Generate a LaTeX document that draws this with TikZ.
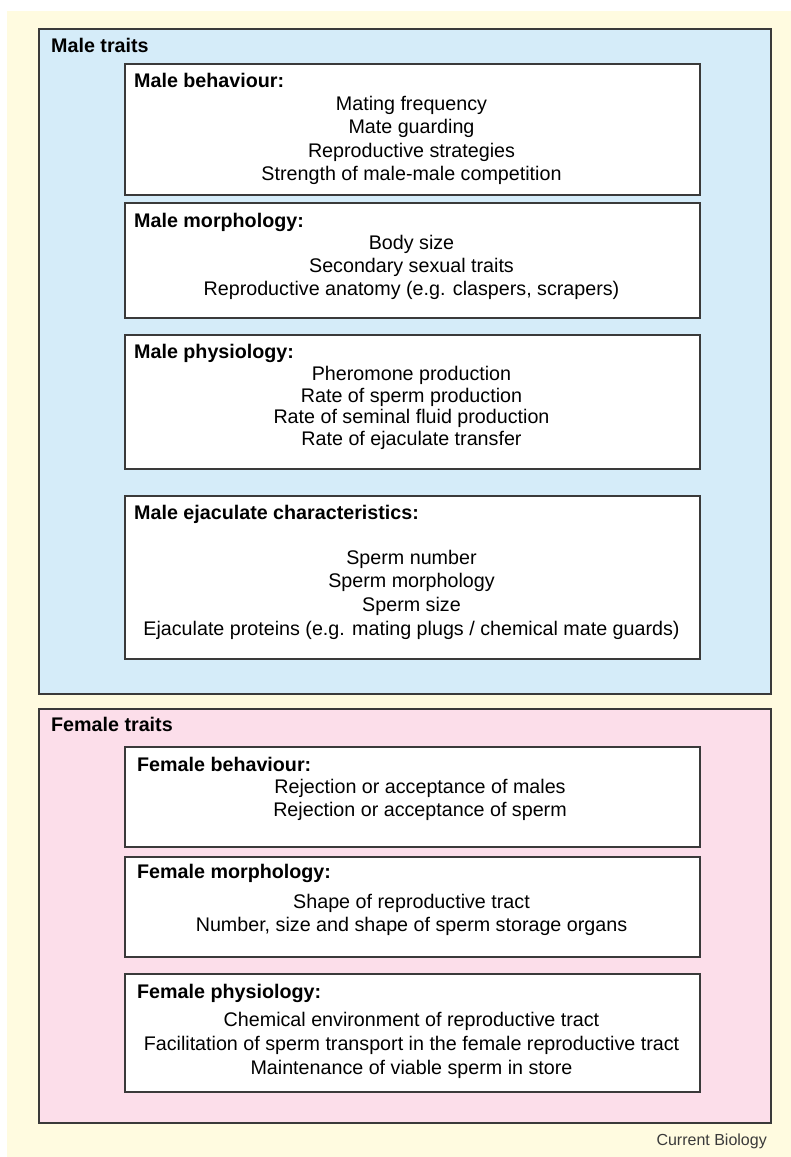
\documentclass[tikz,border=0pt]{standalone}
\usepackage{fontspec}
\setmainfont{Liberation Sans}
\definecolor{bgcream}{HTML}{FFFBE0}
\definecolor{maleblue}{HTML}{D5ECF9}
\definecolor{femalepink}{HTML}{FCDEEA}
\definecolor{edge}{HTML}{3A3A3A}
\begin{document}
\begin{tikzpicture}[x=1pt,y=-1pt]
\tikzset{ every node/.style={inner sep=0pt, font=\fontsize{19.7}{23.5}\selectfont}}
\tikzstyle{group}=[draw=edge,line width=1.5pt,anchor=north west,minimum width=732pt]
\tikzstyle{traitbox}=[draw=edge,line width=1.5pt,fill=white,anchor=north west,minimum width=575pt]
\tikzstyle{head}=[anchor=base west,font=\fontsize{19.7}{23.5}\selectfont\bfseries]
\tikzstyle{item}=[anchor=base]
\tikzstyle{credit}=[anchor=base east,text=edge,font=\fontsize{16}{19}\selectfont]
\useasboundingbox (0,0) rectangle (791,1157);
\fill[bgcream] (7,11) rectangle (791,1157);
% groups
\node[group,fill=maleblue,minimum height=665pt] (male) at (38,28) {};
\node[group,fill=femalepink,minimum height=414pt] (female) at (38,708) {};
\node[head] (maletitle) at (51,52) {Male traits};
\node[head] (femaletitle) at (51,731) {Female traits};
% male boxes
\node[traitbox,minimum height=131pt] (mbeh) at (124,63) {};
\node[traitbox,minimum height=115pt] (mmor) at (124,202) {};
\node[traitbox,minimum height=134pt] (mphy) at (124,334) {};
\node[traitbox,minimum height=163pt] (mejc) at (124,495) {};
\node[head] (mbehhead) at (134,87) {Male behaviour:};
\node[item] (mbeh1) at (411.5,110) {Mating frequency};
\node[item] (mbeh2) at (411.5,133.5) {Mate guarding};
\node[item] (mbeh3) at (411.5,157) {Reproductive strategies};
\node[item] (mbeh4) at (411.5,180.5) {Strength of male-male competition};
\node[head] (mmorhead) at (134,227) {Male morphology:};
\node[item] (mmor1) at (411.5,249) {Body size};
\node[item] (mmor2) at (411.5,272) {Secondary sexual traits};
\node[item] (mmor3) at (411.5,295) {Reproductive anatomy (e.g. claspers, scrapers)};
\node[head] (mphyhead) at (134,358) {Male physiology:};
\node[item] (mphy1) at (411.5,380) {Pheromone production};
\node[item] (mphy2) at (411.5,402) {Rate of sperm production};
\node[item] (mphy3) at (411.5,423.5) {Rate of seminal fluid production};
\node[item] (mphy4) at (411.5,445) {Rate of ejaculate transfer};
\node[head] (mejchead) at (134,519.5) {Male ejaculate characteristics:};
\node[item] (mejc1) at (411.5,564) {Sperm number};
\node[item] (mejc2) at (411.5,587.5) {Sperm morphology};
\node[item] (mejc3) at (411.5,611.5) {Sperm size};
\node[item] (mejc4) at (411.5,635) {Ejaculate proteins (e.g. mating plugs / chemical mate guards)};
% female boxes
\node[traitbox,minimum height=100pt] (fbeh) at (124,746) {};
\node[traitbox,minimum height=100pt] (fmor) at (124,856) {};
\node[traitbox,minimum height=118pt] (fphy) at (124,973) {};
\node[head] (fbehhead) at (137,771) {Female behaviour:};
\node[item] (fbeh1) at (420,793) {Rejection or acceptance of males};
\node[item] (fbeh2) at (420,816) {Rejection or acceptance of sperm};
\node[head] (fmorhead) at (137,878) {Female morphology:};
\node[item] (fmor1) at (411.5,908) {Shape of reproductive tract};
\node[item] (fmor2) at (411.5,931) {Number, size and shape of sperm storage organs};
\node[head] (fphyhead) at (137,998) {Female physiology:};
\node[item] (fphy1) at (411.5,1026) {Chemical environment of reproductive tract};
\node[item] (fphy2) at (411.5,1050) {Facilitation of sperm transport in the female reproductive tract};
\node[item] (fphy3) at (411.5,1074) {Maintenance of viable sperm in store};
%\node[credit]
\node[credit] (source) at (767,1145) {Current Biology};
\end{tikzpicture}
\end{document}
